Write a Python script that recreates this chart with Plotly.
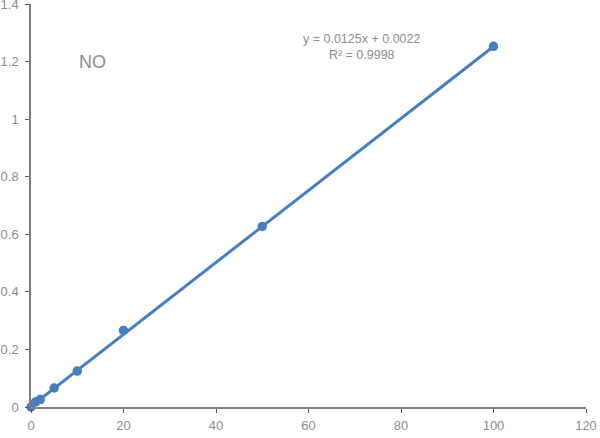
import numpy as np
import plotly.graph_objects as go

x_vals = [0, 1, 2, 5, 10, 20, 50, 100]
y_vals = [0.0, 0.018, 0.026, 0.066, 0.125, 0.266, 0.627, 1.253]
x_ticks = [0, 20, 40, 60, 80, 100, 120]
y_ticks = [0, 0.2, 0.4, 0.6, 0.8, 1, 1.2, 1.4]
y_tick_labels = ["0", "0.2", "0.4", "0.6", "0.8", "1", "1.2", "1.4"]
eq_text = "y = 0.0125x + 0.0022"
r2_text = "R² = 0.9998"
label_text = "NO"

slope, intercept = 0.0125, 0.0022
fit_x = [min(x_vals), max(x_vals)]
fit_y = [slope * v + intercept for v in fit_x]

blue = "#4a7ebb"
grey_txt = "#8a8d94"
axis_col = "#7f7f7f"

fig = go.Figure()
fig.add_trace(go.Scatter(x=fit_x, y=fit_y, mode="lines",
                         line=dict(color=blue, width=3), showlegend=False,
                         hoverinfo="skip", cliponaxis=False))
fig.add_trace(go.Scatter(x=x_vals, y=y_vals, mode="markers",
                         marker=dict(color=blue, size=9.5), showlegend=False,
                         cliponaxis=False))

fig.add_annotation(x=0.11, y=0.856, xref="paper", yref="paper", text=label_text,
                   showarrow=False, xanchor="center", yanchor="middle",
                   font=dict(size=18, color=grey_txt, family="Liberation Sans"))
fig.add_annotation(x=0.596, y=0.935, xref="paper", yref="paper",
                   text=eq_text + "<br>" + r2_text, showarrow=False,
                   align="center", xanchor="center", yanchor="top",
                   font=dict(size=12.5, color=grey_txt, family="Liberation Sans"))

axis_common = dict(showgrid=False, zeroline=False, showline=True,
                   linecolor=axis_col, linewidth=1.5, ticks="outside",
                   ticklen=4, tickcolor="#555555", tickwidth=1, automargin=False,
                   ticklabeloverflow="allow",
                   tickfont=dict(size=13, color=grey_txt, family="Liberation Sans"))

fig.update_xaxes(range=[0, 120], tickvals=x_ticks, ticklabelstandoff=2,
                 **axis_common)
fig.update_yaxes(range=[0, 1.4], tickvals=y_ticks, ticktext=y_tick_labels,
                 ticklabelstandoff=4, **axis_common)

fig.update_layout(width=600, height=438, plot_bgcolor="white",
                  paper_bgcolor="white",
                  margin=dict(l=31, r=14, t=4, b=31))

fig.write_html("out.html", config={"displayModeBar": False},
               post_script="document.body.style.margin='0';document.body.style.overflow='hidden';")
